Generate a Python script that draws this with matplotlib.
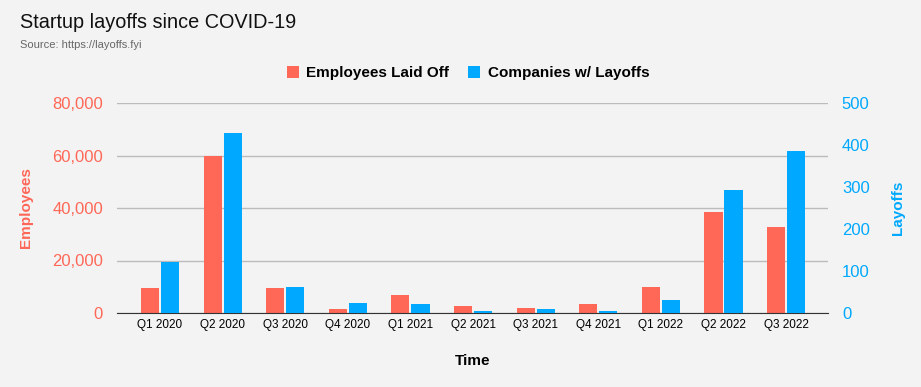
import numpy as np
import matplotlib.pyplot as plt

plt.rcParams['font.family'] = ['Liberation Sans', 'DejaVu Sans']

quarters = ["Q1 2020", "Q2 2020", "Q3 2020", "Q4 2020", "Q1 2021", "Q2 2021",
            "Q3 2021", "Q4 2021", "Q1 2022", "Q2 2022", "Q3 2022"]
employees = [9500, 60000, 9500, 1500, 6900, 2600, 1900, 3400, 9900, 38500, 32800]
companies = [121, 428, 62, 24, 21, 5, 9, 5, 31, 293, 386]

red = "#ff6757"
blue = "#00a9ff"
bg = "#f3f3f3"

fig = plt.figure(figsize=(9.21, 3.87), dpi=100, facecolor=bg)
ax = fig.add_axes([117/921, 1 - 313/387, 711/921, 210/387])
ax.set_facecolor(bg)
ax2 = ax.twinx()

x = np.arange(len(quarters))
w = 0.29
ax.bar(x - 0.16, employees, w, color=red, label="Employees Laid Off", zorder=3)
ax2.bar(x + 0.16, companies, w, color=blue, label="Companies w/ Layoffs", zorder=3)

ax.set_ylim(0, 80000)
ax2.set_ylim(0, 500)
ax.set_xlim(-0.687, 10.67)
ax.set_yticks(np.arange(0, 80001, 20000))
ax.set_yticklabels([f"{v:,}" for v in range(0, 80001, 20000)])
ax2.set_yticks(np.arange(0, 501, 100))
ax.set_xticks(x)
ax.set_xticklabels(quarters, fontsize=8.5)

ax.grid(axis="y", color="#bbbbbb", linewidth=1, zorder=0)
ax.tick_params(axis="y", colors=red, labelsize=12, length=0, pad=10)
ax2.tick_params(axis="y", colors=blue, labelsize=12, length=0, pad=10)
ax.tick_params(axis="x", length=0, pad=4, labelsize=8.5)
for a in (ax, ax2):
    for s in a.spines.values():
        s.set_visible(False)
ax.spines["bottom"].set_visible(True)
ax.spines["bottom"].set_color("#333333")
ax.spines["bottom"].set_zorder(5)

ax.set_ylabel("Employees", color=red, fontsize=11, fontweight="bold", labelpad=14)
ax2.set_ylabel("Layoffs", color=blue, fontsize=11, fontweight="bold", labelpad=15)
ax.set_xlabel("Time", fontsize=11, fontweight="bold", labelpad=17)

fig.text(20/921, 1 - 22/387, "Startup layoffs since COVID-19", fontsize=14.3,
         va="center", ha="left", color="#111111")
fig.text(20/921, 1 - 45/387, "Source: https://layoffs.fyi", fontsize=8,
         va="center", ha="left", color="#666666")

h1, l1 = ax.get_legend_handles_labels()
h2, l2 = ax2.get_legend_handles_labels()
fig.legend(h1 + h2, l1 + l2, loc="center", bbox_to_anchor=(0.508, 1 - 73/387),
           ncol=2, frameon=False, prop={"weight": "bold", "size": 11},
           handlelength=0.8, handleheight=0.8, columnspacing=1.2, handletextpad=0.5)

fig.savefig("out.png", dpi=100, facecolor=bg)
